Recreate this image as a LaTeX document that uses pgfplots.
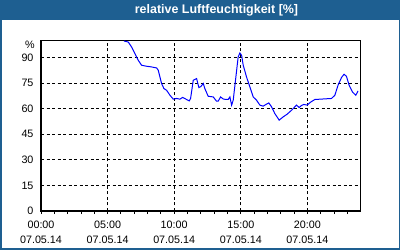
\documentclass[border=0pt]{standalone}
\usepackage{pgfplots}
\pgfplotsset{compat=1.18}
\usepackage{fontspec}
\setmainfont{Liberation Sans}
\definecolor{barblue}{HTML}{1E5F91}
\begin{document}
\begin{tikzpicture}[x=1bp,y=1bp]
\useasboundingbox (0,0) rectangle (400,250);
\fill[white] (0,0) rectangle (400,250);
\fill[barblue] (0,229.5) rectangle (400,250);
\fill[barblue] (0,0) rectangle (1.6,250);
\fill[barblue] (399,0) rectangle (400,250);
\fill[barblue] (0,0) rectangle (400,2);
\node[text=white,font=\fontsize{12.5}{14}\selectfont\bfseries] at (216.5,239.5) {relative Luftfeuchtigkeit [\%]};
\begin{axis}[
  name=ax,
  at={(41bp,39bp)}, anchor=south west,
  scale only axis, width=319.7bp, height=170.5bp,
  xmin=0, xmax=24, ymin=0, ymax=100,
  xtick={0,5,10,15,20},
  xticklabels={{00:00\\[3.5bp]07.05.14},{05:00\\[3.5bp]07.05.14},{10:00\\[3.5bp]07.05.14},{15:00\\[3.5bp]07.05.14},{20:00\\[3.5bp]07.05.14}},
  minor xtick={1,2,3,4,6,7,8,9,11,12,13,14,16,17,18,19,21,22,23},
  ytick={0,15,30,45,60,75,90},
  grid=major,
  major grid style={black, line width=0.9bp, dash pattern=on 3bp off 2.5bp},
  axis line style={black, line width=1.2bp},
  xtick style={black, line width=0.9bp},
  minor tick style={black, line width=0.9bp},
  ytick style={draw=none},
  tick align=outside,
  major tick length=3bp, minor tick length=3bp,
  xtick pos=bottom,
  ytick pos=left,
  tick label style={font=\fontsize{10.8}{12}\selectfont, text=black},
  xticklabel style={align=center, yshift=-3bp},
  yticklabel style={xshift=-1bp},
  /pgf/number format/assume math mode=true,
  clip=true,
]
\addplot[blue, line width=1bp] coordinates {
(6.23,99.7)(6.55,99.1)(6.80,96.2)(7.05,92.3)(7.30,88.4)(7.55,85.5)(7.93,84.9)
(8.30,84.5)(8.68,83.9)(8.80,82.6)(9.05,74.8)(9.23,71.8)(9.43,70.8)(9.68,67.9)
(9.93,65.6)(10.18,66.0)(10.43,65.6)(10.63,66.6)(10.88,65.6)(11.13,64.6)(11.23,66.0)
(11.43,76.7)(11.68,77.7)(11.85,72.4)(12.0,73.0)(12.18,74.8)(12.30,71.8)(12.55,67.3)
(12.93,66.9)(13.18,64.4)(13.30,64.4)(13.48,66.9)(13.68,65.7)(13.88,65.4)(14.05,65.4)
(14.18,66.9)(14.31,62.1)(14.43,65.0)(14.63,78.6)(14.80,90.3)(14.93,92.7)(15.06,91.3)
(15.18,85.5)(15.43,78.6)(15.68,72.8)(15.93,66.9)(16.18,65.0)(16.43,62.1)(16.68,61.5)
(16.93,62.7)(17.10,63.4)(17.31,61.1)(17.55,57.2)(17.88,53.3)(18.18,55.2)(18.48,56.8)
(18.81,59.1)(19.18,62.1)(19.38,60.7)(19.56,61.9)(19.73,62.5)(19.98,62.1)(20.23,63.8)
(20.56,65.4)(21.18,65.7)(21.81,66.0)(22.06,67.9)(22.30,73.8)(22.56,78.3)(22.75,80.2)
(22.93,79.0)(23.13,73.8)(23.38,69.8)(23.63,67.9)(23.80,70.4)
};
\end{axis}
\node[anchor=east, font=\fontsize{10.8}{12}\selectfont, inner sep=0pt] at ([xshift=-6bp,yshift=-4.5bp]ax.north west) {\%};
\end{tikzpicture}
\end{document}
